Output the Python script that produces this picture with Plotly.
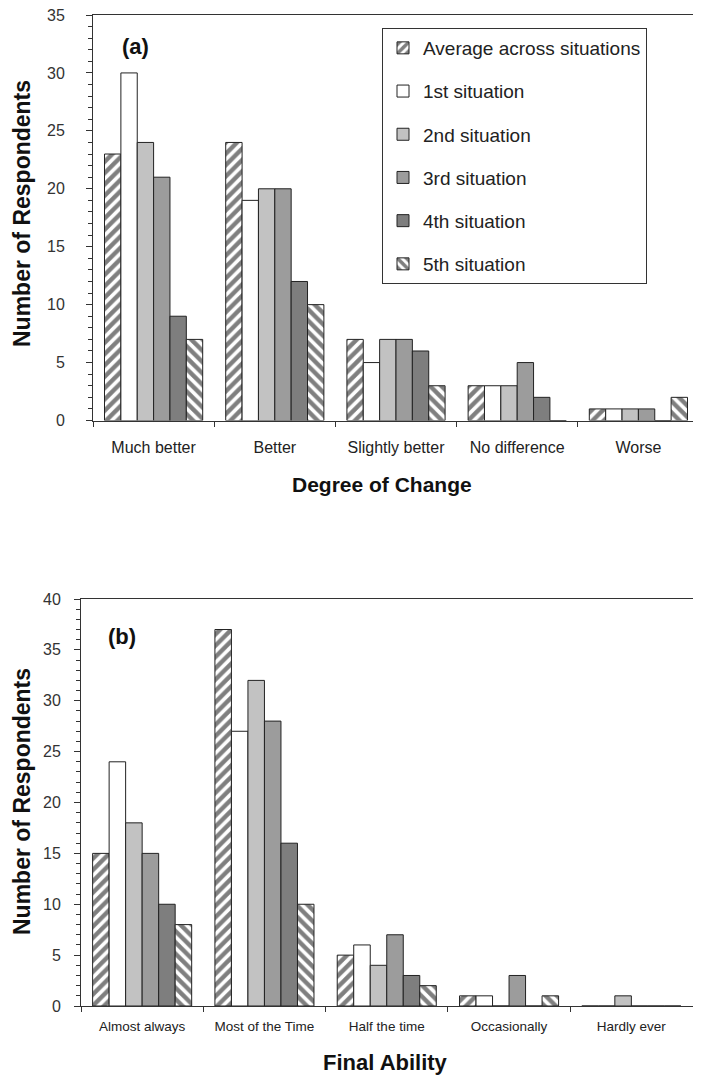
import plotly.graph_objects as go

# ---- data ----
series_names = ["Average across situations", "1st situation", "2nd situation",
                "3rd situation", "4th situation", "5th situation"]

change_categories = ["Much better", "Better", "Slightly better", "No difference", "Worse"]
change_avg = [23, 24, 7, 3, 1]
change_s1 = [30, 19, 5, 3, 1]
change_s2 = [24, 20, 7, 3, 1]
change_s3 = [21, 20, 7, 5, 1]
change_s4 = [9, 12, 6, 2, 0]
change_s5 = [7, 10, 3, 0, 2]

ability_categories = ["Almost always", "Most of the Time", "Half the time", "Occasionally", "Hardly ever"]
ability_avg = [15, 37, 5, 1, 0]
ability_s1 = [24, 27, 6, 1, 0]
ability_s2 = [18, 32, 4, 0, 1]
ability_s3 = [15, 28, 7, 3, 0]
ability_s4 = [10, 16, 3, 0, 0]
ability_s5 = [8, 10, 2, 1, 0]

yticks_a = [0, 5, 10, 15, 20, 25, 30, 35]
yticks_b = [0, 5, 10, 15, 20, 25, 30, 35, 40]

# ---- styles ----
W, H = 701, 1083
OFF = 8  # page body margin
FW, FH = W - OFF, H - OFF
FONT = "Arial, Liberation Sans, Helvetica, sans-serif"
styles = [
    dict(color="white", pattern=dict(shape="/", fgcolor="black", bgcolor="white", size=8, solidity=0.55)),
    dict(color="white"),
    dict(color="#c2c2c2"),
    dict(color="#9c9c9c"),
    dict(color="#7e7e7e"),
    dict(color="white", pattern=dict(shape="\\", fgcolor="black", bgcolor="white", size=8, solidity=0.55)),
]

fig = go.Figure()

data_a = [change_avg, change_s1, change_s2, change_s3, change_s4, change_s5]
data_b = [ability_avg, ability_s1, ability_s2, ability_s3, ability_s4, ability_s5]

for i, (name, vals) in enumerate(zip(series_names, data_a)):
    m = dict(styles[i])
    m["line"] = dict(color="#222222", width=1)
    fig.add_trace(go.Bar(x=change_categories, y=vals, name=name, marker=m,
                         xaxis="x", yaxis="y", legendgroup=f"g{i}", showlegend=True))
for i, (name, vals) in enumerate(zip(series_names, data_b)):
    m = dict(styles[i])
    m["line"] = dict(color="#222222", width=1)
    fig.add_trace(go.Bar(x=ability_categories, y=vals, name=name, marker=m,
                         xaxis="x2", yaxis="y2", legendgroup=f"g{i}", showlegend=False))

def px_x(v):
    return (v - OFF) / FW

def px_y(v):
    return 1 - (v - OFF) / FH

axis_common = dict(showline=True, linecolor="#333333", linewidth=1, mirror=True,
                   showgrid=False, zeroline=False, automargin=False,
                   ticklabeloverflow="allow")

def ann(text, x, y, size, angle=0):
    return dict(text=text, x=px_x(x), y=px_y(y), xref="paper", yref="paper",
                xanchor="center", yanchor="middle", showarrow=False, textangle=angle,
                font=dict(size=size, color="#111111"))

fig.update_layout(
    width=FW, height=FH,
    margin=dict(l=0, r=0, t=0, b=0, autoexpand=False),
    paper_bgcolor="white", plot_bgcolor="white",
    barmode="group", bargap=0.19, bargroupgap=0,
    font=dict(family=FONT, color="#222222"),
    xaxis=dict(domain=[px_x(93), px_x(699)], anchor="y", ticks="outside", ticklen=5,
               tickson="boundaries", tickcolor="#333333",
               tickfont=dict(size=16, color="#222222"), ticklabelstandoff=12, **axis_common),
    yaxis=dict(domain=[px_y(420.5), px_y(15)], anchor="x", range=[0, 35],
               tickvals=yticks_a, ticks="outside", ticklen=6, tickcolor="#333333",
               minor=dict(dtick=1, ticks="outside", ticklen=4, tickcolor="#333333"),
               tickfont=dict(size=16, color="#333333"), ticklabelstandoff=18, **axis_common),
    xaxis2=dict(domain=[px_x(81), px_x(692.5)], anchor="y2", ticks="outside", ticklen=5,
                tickson="boundaries", tickcolor="#333333",
                tickfont=dict(size=13.5, color="#222222"), ticklabelstandoff=8, **axis_common),
    yaxis2=dict(domain=[px_y(1006), px_y(599)], anchor="x2", range=[0, 40],
                tickvals=yticks_b, ticks="outside", ticklen=6, tickcolor="#333333",
                minor=dict(dtick=1, ticks="outside", ticklen=4, tickcolor="#333333"),
                tickfont=dict(size=16, color="#333333"), ticklabelstandoff=10, **axis_common),
    legend=dict(x=px_x(382), y=px_y(28), xanchor="left", yanchor="top",
                bordercolor="#333333", borderwidth=1, bgcolor="white",
                font=dict(size=19, color="#222222"), traceorder="grouped",
                tracegroupgap=15.5),
    annotations=[
        ann("<b>(a)</b>", 135, 46, 22),
        ann("<b>(b)</b>", 122, 636, 22),
        ann("<b>Number of Respondents</b>", 22, 214, 23, -90),
        ann("<b>Number of Respondents</b>", 22, 802, 23, -90),
        ann("<b>Degree of Change</b>", 382, 484, 21),
        ann("<b>Final Ability</b>", 385, 1062, 22),
    ],
)

fig.write_html("out.html")
